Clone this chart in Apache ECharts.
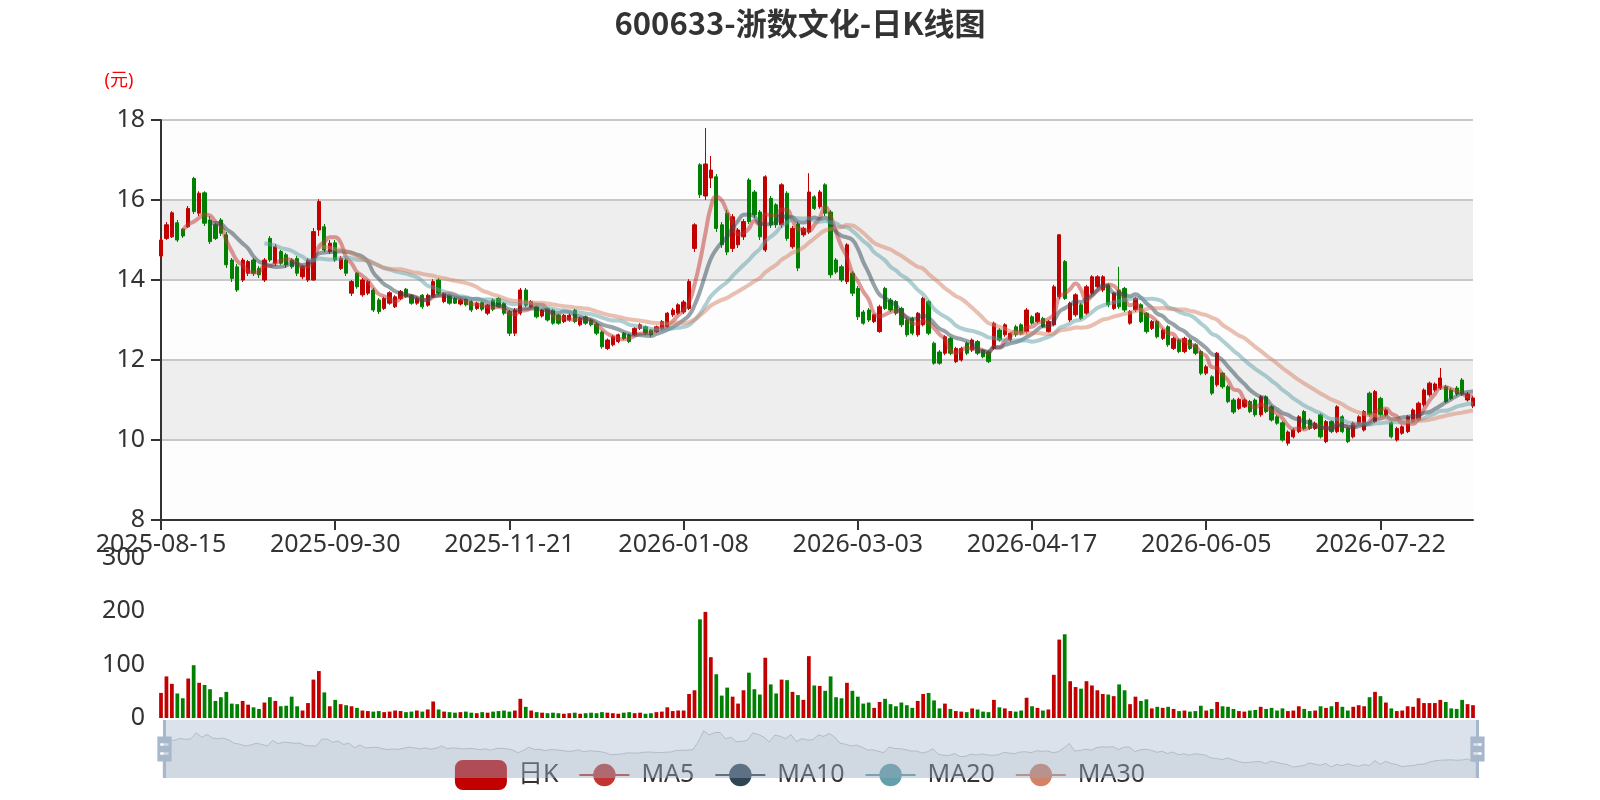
<!DOCTYPE html>
<html><head><meta charset="utf-8">
<script src="https://cdn.jsdelivr.net/npm/echarts@6/dist/echarts.min.js"></script>
<style>html,body{margin:0;padding:0;background:#fff}#c{width:1600px;height:800px}</style>
</head><body><div id="c"></div>
<script>
// ---------- data ----------
const chartTitle = '600633-浙数文化-日K线图';
const startDate = '2025-08-15';
const endDate = '2026-08-14';
const holidays = ['2025-10-01','2025-10-02','2025-10-03','2025-10-06','2025-10-07','2025-10-08',
  '2026-01-01','2026-01-02','2026-02-16','2026-02-17','2026-02-18','2026-02-19','2026-02-20','2026-02-23',
  '2026-04-06','2026-05-01','2026-05-04','2026-05-05','2026-06-19'];
const seriesNames = ['日K','MA5','MA10','MA20','MA30'];
const maDays = [5,10,20,30];
const priceTicks = [8,10,12,14,16,18];
const volumeTicks = [0,100,200,300];
// [open, close, low, high]
const ohlc = [
[14.6,15.0,14.55,15.05],[15.04,15.38,15.0,15.45],[15.08,15.68,15.05,15.72],[15.43,15.0,14.95,15.5],[15.27,15.1,15.05,15.3],
[15.33,15.79,15.3,15.85],[16.54,15.71,15.65,16.58],[15.67,16.17,15.6,16.22],[16.18,15.42,15.35,16.22],[15.5,14.96,14.9,15.6],
[15.38,15.04,15.0,15.42],[15.5,15.17,15.1,15.55],[15.13,14.38,14.3,15.2],[14.5,14.04,13.95,14.55],[14.33,13.75,13.7,14.4],
[14.0,14.5,13.95,14.55],[14.17,14.46,14.1,14.5],[14.5,14.17,14.1,14.55],[14.29,14.13,14.05,14.35],[14.0,14.5,13.95,14.55],
[15.04,14.5,14.45,15.1],[14.42,14.83,14.35,14.9],[14.71,14.42,14.38,14.75],[14.63,14.38,14.3,14.68],[14.5,14.33,14.28,14.55],
[14.54,14.17,14.1,14.6],[14.08,14.33,14.02,14.38],[14.0,14.5,13.95,14.55],[14.0,15.21,13.98,15.3],[15.25,15.96,15.1,16.02],
[15.33,14.75,14.7,15.4],[14.71,14.92,14.65,15.0],[14.93,14.5,14.45,15.0],[14.29,14.54,14.25,14.6],[14.5,14.17,14.1,14.55],
[13.67,13.96,13.6,14.0],[14.17,13.83,13.78,14.2],[13.63,14.0,13.58,14.05],[13.67,13.96,13.62,14.0],[13.75,13.25,13.2,13.8],
[13.5,13.21,13.15,13.55],[13.29,13.54,13.25,13.58],[13.42,13.68,13.38,13.72],[13.33,13.58,13.3,13.62],[13.54,13.71,13.5,13.75],
[13.77,13.58,13.55,13.8],[13.62,13.42,13.38,13.65],[13.42,13.54,13.38,13.58],[13.62,13.33,13.28,13.65],[13.37,13.62,13.33,13.66],
[13.58,13.96,13.55,14.02],[14.0,13.67,13.62,14.05],[13.46,13.67,13.42,13.7],[13.62,13.42,13.38,13.66],[13.54,13.42,13.4,13.58],
[13.4,13.5,13.36,13.54],[13.52,13.38,13.34,13.55],[13.46,13.25,13.2,13.5],[13.29,13.42,13.25,13.46],[13.43,13.27,13.22,13.46],
[13.17,13.37,13.12,13.4],[13.5,13.27,13.22,13.54],[13.54,13.33,13.3,13.58],[13.42,13.17,13.12,13.45],[13.21,12.67,12.6,13.25],
[12.67,13.25,12.6,13.3],[13.17,13.75,13.12,13.8],[13.75,13.37,13.32,13.8],[13.33,13.46,13.3,13.5],[13.33,13.08,13.04,13.36],
[13.1,13.25,13.06,13.28],[13.29,13.0,12.96,13.32],[13.25,12.92,12.88,13.28],[13.12,12.92,12.88,13.15],[12.96,13.12,12.92,13.15],
[13.0,13.12,12.96,13.16],[13.25,12.96,12.92,13.28],[12.88,13.04,12.84,13.08],[13.08,12.92,12.88,13.12],[13.0,12.88,12.84,13.04],
[12.9,12.67,12.62,12.94],[12.7,12.33,12.28,12.74],[12.29,12.5,12.25,12.54],[12.38,12.58,12.34,12.62],[12.46,12.63,12.42,12.66],
[12.67,12.54,12.5,12.7],[12.63,12.46,12.42,12.66],[12.63,12.79,12.6,12.82],[12.79,12.88,12.75,12.92],[12.83,12.67,12.63,12.86],
[12.75,12.63,12.58,12.78],[12.71,12.83,12.68,12.86],[12.79,12.96,12.75,13.0],[12.83,13.17,12.8,13.2],[13.13,13.25,13.08,13.3],
[13.17,13.38,13.13,13.42],[13.2,13.45,13.15,13.5],[13.29,13.96,13.25,14.02],[14.79,15.38,14.7,15.42],[16.88,16.13,16.05,16.92],
[16.1,16.9,16.0,17.8],[16.55,16.75,16.3,17.1],[16.58,15.29,15.2,16.65],[15.38,14.88,14.8,15.45],[15.67,14.7,14.62,15.75],
[14.79,15.58,14.7,15.65],[14.88,15.25,14.8,15.3],[15.08,15.46,15.0,15.52],[16.5,15.46,15.4,16.55],[16.2,15.63,15.55,16.25],
[15.7,15.08,15.0,15.75],[14.75,16.58,14.7,16.62],[16.04,15.38,15.3,16.1],[15.88,15.38,15.3,15.92],[15.38,16.38,15.3,16.42],
[16.17,15.04,14.98,16.22],[14.83,15.29,14.78,15.35],[15.4,14.3,14.22,15.46],[15.13,15.29,15.08,15.33],[15.2,16.2,15.15,16.67],
[16.08,15.79,15.75,16.12],[15.83,16.2,15.78,16.25],[16.38,15.67,15.6,16.42],[15.7,14.13,14.05,15.75],[14.5,14.2,14.15,14.55],
[14.33,14.0,13.95,14.38],[13.96,14.88,13.9,14.92],[14.17,13.67,13.6,14.22],[13.79,13.08,13.0,13.85],[13.2,12.92,12.88,13.25],
[13.25,13.0,12.95,13.3],[12.96,13.13,12.92,13.16],[12.71,13.33,12.68,13.38],[13.79,13.29,13.25,13.83],[13.5,13.25,13.2,13.55],
[13.46,13.17,13.12,13.5],[13.29,12.88,12.82,13.33],[13.0,12.63,12.58,13.05],[13.04,12.67,12.62,13.08],[12.63,13.17,12.58,13.2],
[12.88,13.54,12.84,13.58],[13.46,12.67,12.62,13.5],[12.42,11.92,11.88,12.46],[12.2,11.92,11.88,12.25],[12.17,12.58,12.12,12.62],
[12.54,12.17,12.12,12.58],[11.96,12.29,11.92,12.33],[12.0,12.29,11.96,12.33],[12.42,12.17,12.12,12.46],[12.25,12.5,12.2,12.54],
[12.46,12.17,12.12,12.5],[12.25,12.08,12.04,12.28],[12.2,11.96,11.92,12.24],[12.29,12.92,12.25,12.96],[12.75,12.5,12.46,12.8],
[12.63,12.88,12.58,12.92],[12.5,12.67,12.46,12.7],[12.83,12.63,12.58,12.88],[12.88,12.67,12.62,12.92],[12.71,13.25,12.66,13.3],
[13.08,12.92,12.88,13.12],[12.96,13.17,12.92,13.2],[13.04,12.83,12.8,13.08],[12.71,12.96,12.68,13.0],[12.88,13.83,12.84,13.88],
[13.58,15.13,13.52,15.15],[14.46,13.54,13.5,14.5],[13.0,13.42,12.95,13.46],[13.13,13.63,13.08,13.67],[13.38,13.04,13.0,13.42],
[13.17,13.83,13.12,13.88],[13.67,14.08,13.62,14.12],[13.83,14.08,13.8,14.12],[13.75,14.08,13.7,14.12],[13.88,13.38,13.32,13.92],
[13.29,13.67,13.25,13.7],[13.75,13.33,13.28,14.33],[13.79,13.25,13.2,13.83],[12.92,13.21,12.88,13.25],[13.25,13.54,13.2,13.58],
[13.38,12.96,12.92,13.42],[13.17,12.71,12.66,13.2],[12.79,12.96,12.75,13.0],[12.96,12.58,12.54,13.0],[12.54,12.75,12.5,12.79],
[12.83,12.38,12.33,12.87],[12.29,12.54,12.25,12.58],[12.5,12.21,12.17,12.54],[12.21,12.54,12.17,12.58],[12.5,12.29,12.25,12.54],
[12.38,12.17,12.12,12.42],[12.21,11.67,11.62,12.25],[11.67,11.83,11.62,11.88],[11.58,11.17,11.12,11.62],[11.38,12.17,11.33,12.2],
[11.67,11.33,11.28,11.7],[11.33,10.96,10.92,11.38],[11.0,10.7,10.65,11.05],[10.79,11.02,10.75,11.06],[10.83,11.0,10.8,11.04],
[10.96,10.71,10.67,11.0],[11.0,10.63,10.58,11.04],[10.63,11.08,10.58,11.12],[11.08,10.71,10.67,11.12],[10.83,10.5,10.46,10.87],
[10.58,10.42,10.38,10.62],[10.43,10.0,9.96,10.47],[9.92,10.2,9.86,10.24],[10.08,10.25,10.04,10.29],[10.21,10.58,10.17,10.62],
[10.71,10.29,10.25,10.75],[10.5,10.29,10.25,10.54],[10.29,10.42,10.25,10.46],[10.63,10.08,10.04,10.67],[9.96,10.46,9.92,10.5],
[10.46,10.21,10.17,10.5],[10.21,10.83,10.17,10.87],[10.58,10.21,10.17,10.62],[10.29,9.96,9.92,10.33],[10.08,10.42,10.04,10.46],
[10.42,10.58,10.38,10.62],[10.25,10.71,10.21,10.75],[11.17,10.63,10.58,11.21],[10.46,11.21,10.42,11.25],[11.04,10.63,10.58,11.08],
[10.63,10.75,10.58,10.79],[10.43,10.08,10.04,10.47],[10.0,10.29,9.96,10.33],[10.17,10.33,10.13,10.37],[10.21,10.58,10.17,10.62],
[10.46,10.75,10.42,10.79],[10.5,10.92,10.46,10.96],[10.88,11.25,10.83,11.29],[11.13,11.42,11.08,11.46],[11.25,11.4,11.2,11.44],
[11.3,11.55,11.25,11.8],[11.33,10.96,10.92,11.38],[11.25,11.04,11.0,11.3],[11.3,11.15,11.1,11.35],[11.5,11.15,11.1,11.55],
[11.0,11.15,10.96,11.2],[10.85,11.05,10.8,11.1]
];
const volumes = [
47,78,64,46,37,74,99,66,62,54,32,39,49,27,26,32,25,20,17,29,
39,32,22,23,40,22,14,28,72,88,48,22,34,26,24,22,19,14,13,12,
13,11,12,14,13,11,12,14,12,16,31,16,12,11,10,11,12,10,9,11,
10,12,13,14,12,14,36,21,14,11,10,9,10,9,8,9,10,8,9,10,
9,11,10,9,8,10,11,9,10,8,9,11,12,20,13,14,14,45,52,185,
199,114,82,42,57,40,27,52,85,54,44,113,63,46,72,71,49,43,34,116,
61,60,51,78,39,37,66,51,40,27,29,19,30,36,26,22,29,24,19,32,
45,47,33,18,27,17,13,12,11,18,16,12,11,34,20,18,13,12,14,38,
22,19,14,16,81,147,157,69,58,55,69,61,52,45,44,41,63,52,26,40,
32,35,18,21,19,21,17,13,14,12,13,23,14,17,30,22,21,17,13,12,
14,15,21,17,19,14,18,13,14,22,17,13,14,22,19,22,30,21,14,21,
24,22,39,49,41,29,18,13,14,22,21,37,28,28,28,34,30,18,17,34,
26,24
];
const upColor = '#c30000';
const downColor = '#008000';
const maColors = ['#c23531','#2f4554','#61a0a8','#d48265'];

// ---------- helpers ----------
function buildTradingDays(start, end, closed) {
  const out = [];
  const skip = new Set(closed);
  const d = new Date(start + 'T00:00:00Z');
  const e = new Date(end + 'T00:00:00Z');
  while (d <= e) {
    const wd = d.getUTCDay();
    const s = d.toISOString().slice(0, 10);
    if (wd !== 0 && wd !== 6 && !skip.has(s)) out.push(s);
    d.setUTCDate(d.getUTCDate() + 1);
  }
  return out;
}
function movingAverage(n) {
  const res = [];
  for (let i = 0; i < ohlc.length; i++) {
    if (i < n - 1) { res.push('-'); continue; }
    let s = 0;
    for (let j = 0; j < n; j++) s += ohlc[i - j][1];
    res.push(+(s / n).toFixed(3));
  }
  return res;
}
const categories = buildTradingDays(startDate, endDate, holidays);

const FONT = "'Noto Sans', 'Noto Sans CJK SC', sans-serif";
const chart = echarts.init(document.getElementById('c'), null, { renderer: 'canvas' });

const series = [{
  name: seriesNames[0], type: 'candlestick', data: ohlc, barWidth: 3.8,
  itemStyle: { color: upColor, color0: downColor, borderColor: upColor, borderColor0: downColor, borderWidth: 1 }
}];
maDays.forEach((n, k) => {
  series.push({
    name: seriesNames[k + 1], type: 'line', data: movingAverage(n), smooth: true,
    symbol: 'circle', showSymbol: false, color: maColors[k],
    lineStyle: { width: 4, opacity: 0.5 }
  });
});
series.push({
  name: '成交量', type: 'bar', xAxisIndex: 1, yAxisIndex: 1,
  data: volumes.map((v, i) => ({ value: v, itemStyle: { color: ohlc[i][1] >= ohlc[i][0] ? upColor : downColor } }))
});

chart.setOption({
  animation: false,
  backgroundColor: '#fff',
  textStyle: { fontFamily: FONT },
  title: {
    text: chartTitle, left: 'center', top: 0, padding: 8,
    textStyle: { fontSize: 31, fontWeight: 'bold', color: '#333', fontFamily: "'Noto Sans CJK SC', sans-serif" }
  },
  legend: {
    data: seriesNames, bottom: 0, padding: 10, z: 2,
    itemWidth: 50, itemHeight: 28, itemGap: 20,
    textStyle: { fontSize: 25, color: '#333', fontFamily: FONT, padding: [0, 0, 0, 7] },
    itemStyle: { opacity: 1 }, lineStyle: { opacity: 1 }
  },
  grid: [
    { left: 161, right: 127, top: 120, height: 400 },
    { left: 161, right: 127, top: 558, height: 160 }
  ],
  xAxis: [{
    type: 'category', data: categories, boundaryGap: false, gridIndex: 0,
    axisLine: { lineStyle: { color: '#333', width: 2 } },
    axisTick: { length: 10, lineStyle: { width: 2 } },
    axisLabel: { interval: 31, fontSize: 25, color: '#333', margin: 12 },
    splitLine: { show: false }
  }, {
    type: 'category', data: categories, boundaryGap: false, gridIndex: 1,
    axisLine: { show: false }, axisTick: { show: false }, axisLabel: { show: false }, splitLine: { show: false }
  }],
  yAxis: [{
    type: 'value', gridIndex: 0, min: priceTicks[0], max: priceTicks[priceTicks.length - 1],
    interval: priceTicks[1] - priceTicks[0],
    name: '(元)', nameLocation: 'end', nameGap: 30,
    nameTextStyle: { color: 'red', fontSize: 18, padding: [0, 84, 0, 0] },
    axisLine: { show: true, lineStyle: { color: '#333', width: 2 } },
    axisTick: { show: true, length: 10, lineStyle: { width: 2 } },
    axisLabel: { fontSize: 25, color: '#333', margin: 16 },
    splitLine: { show: true, lineStyle: { color: '#c8c8c8', width: 2 } },
    splitArea: { show: true, areaStyle: { color: ['rgba(250,250,250,0.3)', 'rgba(200,200,200,0.3)'] } }
  }, {
    type: 'value', gridIndex: 1, min: volumeTicks[0], max: volumeTicks[volumeTicks.length - 1],
    interval: volumeTicks[1] - volumeTicks[0],
    axisLine: { show: false }, axisTick: { show: false }, splitLine: { show: false },
    axisLabel: { fontSize: 25, color: '#333', margin: 16 }
  }],
  dataZoom: [{
    type: 'slider', xAxisIndex: [0, 1], start: 0, end: 100, z: 10,
    left: 161, right: 124, top: 720, height: 58,
    backgroundColor: 'rgba(47,69,84,0)', borderColor: 'transparent',
    fillerColor: 'rgba(167,183,204,0.4)',
    dataBackground: { lineStyle: { color: '#2f4554', width: 1, opacity: 0.3 }, areaStyle: { color: 'rgba(47,69,84,0.3)', opacity: 0.3 } },
    selectedDataBackground: { lineStyle: { color: '#2f4554', width: 1, opacity: 0.3 }, areaStyle: { color: 'rgba(47,69,84,0.3)', opacity: 0.3 } },
    handleIcon: 'path://M8.2,13.6V3.9H6.3v9.7H3.1v14.9h3.3v9.7h1.8v-9.7h3.3V13.6H8.2z M9.7,24.4H4.8v-1.4h4.9V24.4z M9.7,19.1H4.8v-1.4h4.9V19.1z',
    handleSize: '100%',
    handleStyle: { color: '#a7b7cc', borderColor: '#a7b7cc', borderWidth: 0 },
    moveHandleSize: 0, brushSelect: false, showDetail: false
  }],
  series: series
});
</script>
</body></html>
